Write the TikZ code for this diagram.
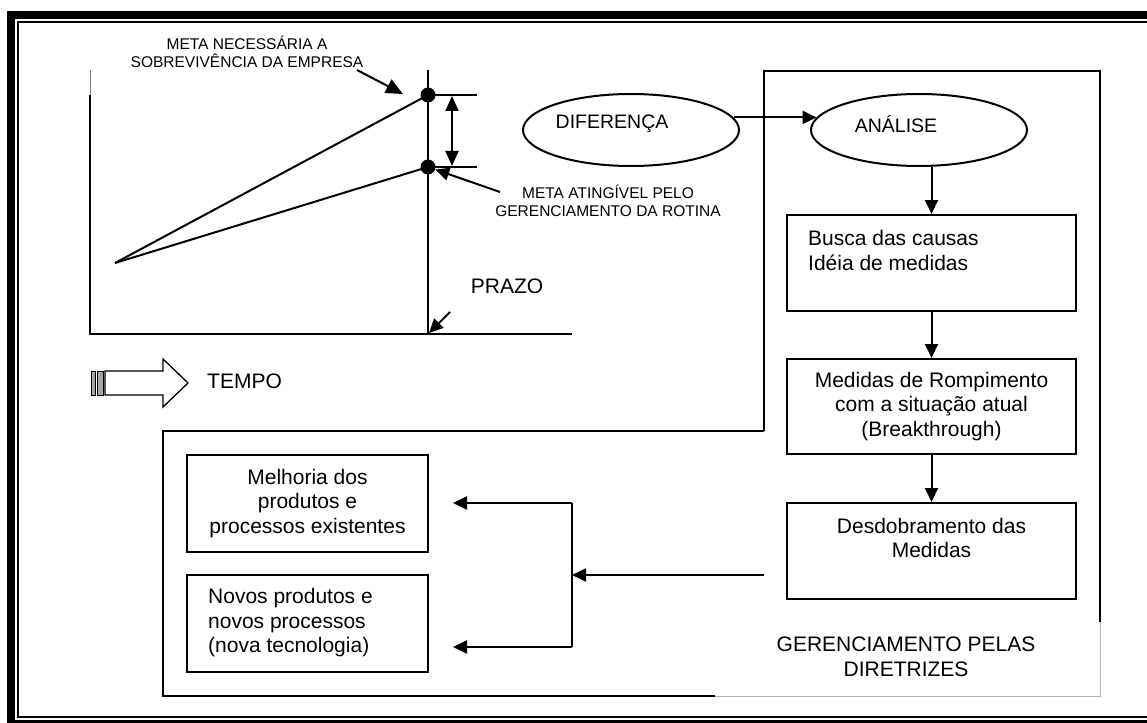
\documentclass[tikz,border=0pt]{standalone}
\usepackage{fontspec}
\setmainfont{Liberation Sans}
\usetikzlibrary{arrows.meta,shapes.geometric,calc}
\begin{document}
\begin{tikzpicture}[x=1pt,y=-1pt,
  ln/.style={line width=2pt},
  arr/.style={ln,-{Triangle[length=14pt,width=13pt]}},
  box/.style={draw,line width=2pt,inner sep=0pt},
  ell/.style={draw,ellipse,line width=2pt,minimum width=216pt,minimum height=72pt,inner sep=0pt},
  small/.style={font=\fontsize{15.5}{18}\selectfont,align=center,inner sep=0pt},
  mid/.style={font=\fontsize{19.5}{23}\selectfont,inner sep=0pt},
  big/.style={font=\fontsize{21}{24.5}\selectfont,inner sep=0pt},
  dot/.style={circle,fill,inner sep=0pt,minimum size=15pt}]
\useasboundingbox (0,0) rectangle (1147,722);
\clip (0,0) rectangle (1147,722);
% frame
\draw[line width=8pt] (11,15) rectangle (1190,723.5);
\draw[line width=1.7pt] (18.2,22) rectangle (1180,717);
% chart
\draw[gray,line width=0.8pt] (90,70) -- (90,95);
\draw[ln] (90,95) -- (90,334) -- (572,334);
\draw[ln] (428,70) -- (428,334);
\coordinate (o) at (115,263);
\node[dot] (d1) at (428,95) {};
\node[dot] (d2) at (428,167) {};
\draw[ln] (o) -- (d1.center);
\draw[ln] (o) -- (d2.center);
\draw[ln] (d1.center) -- (477,95);
\draw[ln] (d2.center) -- (477,167);
\draw[ln,{Triangle[length=15pt,width=13pt]}-{Triangle[length=15pt,width=13pt]}] (452,96) -- (452,166);
\node[small] (lab1) at (247,52) {META NECESSÁRIA A\\SOBREVIVÊNCIA DA EMPRESA};
\coordinate (a1) at (357,70);
\coordinate (t1) at (403,94);
\draw[ln,-{Triangle[length=17pt,width=15pt]}] (a1) -- (t1);
\node[small] (lab2) at (608,201) {META ATINGÍVEL PELO\\GERENCIAMENTO DA ROTINA};
\coordinate (a2) at (500,192);
\draw[arr] (a2) -- (d2);
\node[big] (prazo) at (507,286) {PRAZO};
\coordinate (a3) at (450,312);
\coordinate (t3) at (429,333);
\draw[arr] (a3) -- (t3);
% striped arrow
\draw[line width=1pt,fill=gray!70] (91,371) rectangle (95.5,395);
\draw[line width=1pt,fill=gray!70] (97,371) rectangle (103,395);
\draw[line width=1.3pt] (105,371) -- (163,371) -- (163,359) -- (188,383) -- (163,407) -- (163,395) -- (105,395) -- cycle;
\node[big,anchor=west] (tempo) at (207,381) {TEMPO};
% right part
\draw[ln] (764,431) -- (764,71) -- (1100,71) -- (1100,622);
\draw[gray!60,line width=1pt] (1100,622) -- (1100,696) -- (715,696);
\draw[ln] (715,696) -- (163,696) -- (163,431) -- (764,431);
\node[ell] (dif) at (631,130) {};
\node[mid] (diftxt) at (612,124) {DIFERENÇA};
\node[ell] (ana) at (919,130) {};
\node[mid] (anatxt) at (896,124) {ANÁLISE};
\draw[arr] (dif.7) -- (ana.173);
\node[box,minimum width=289pt,minimum height=96pt] (busca) at (931.5,263) {};
\node[big,anchor=west,align=left] (buscatxt) at (808,250.5) {Busca das causas\\Idéia de medidas};
\node[box,minimum width=289pt,minimum height=95pt,align=center,font=\fontsize{21}{24.5}\selectfont] (medidas) at (931.5,406.5) {Medidas de Rompimento\\com a situação atual\\(Breakthrough)};
\node[box,minimum width=289pt,minimum height=96pt] (desd) at (931.5,551) {};
\node[big,align=center] (desdtxt) at (931.5,538) {Desdobramento das\\Medidas};
\draw[arr] (busca.north |- ana.south) -- (busca.north);
\draw[arr] (busca.south) -- (medidas.north);
\draw[arr] (medidas.south) -- (desd.north);
\node[big,align=center] (ger) at (906,657) {GERENCIAMENTO PELAS\\DIRETRIZES};
% left boxes
\node[box,minimum width=241pt,minimum height=97pt,align=center,font=\fontsize{21}{24.5}\selectfont] (mel) at (307.5,503.5) {Melhoria dos\\produtos e\\processos existentes};
\node[box,minimum width=241pt,minimum height=97pt] (nov) at (307.5,623.5) {};
\node[big,anchor=west,align=left] (novtxt) at (208,623) {Novos produtos e\\novos processos\\(nova tecnologia)};
\coordinate (src) at (764,575);
\coordinate (bm) at (572,575);
\coordinate (bt) at (572,503);
\coordinate (bb) at (572,647);
\coordinate (tt) at (453,503);
\coordinate (tb) at (453,647);
\draw[arr] (src) -- (bm);
\draw[ln] (bt) -- (bb);
\draw[arr] (bt) -- (tt);
\draw[arr] (bb) -- (tb);
\end{tikzpicture}
\end{document}
